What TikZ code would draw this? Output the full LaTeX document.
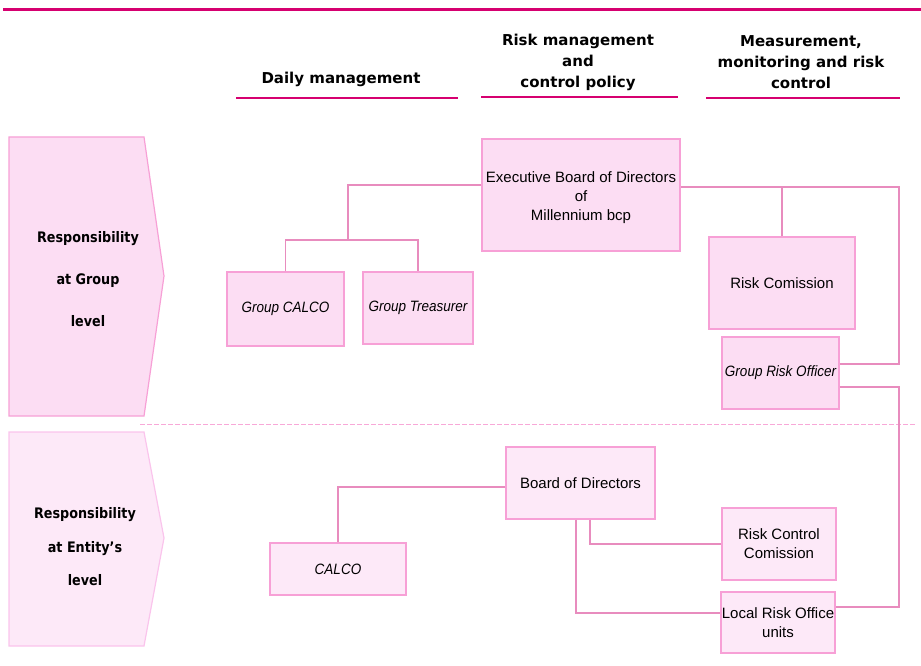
\documentclass[tikz,border=0pt]{standalone}
\usepackage{fontspec}
\setmainfont{Liberation Sans}
\newfontfamily\itfont{Liberation Sans}[FakeStretch=0.9]
\newfontfamily\hdrfont{DejaVu Sans}
\newfontfamily\lblfont{DejaVu Sans}[FakeStretch=0.88]
\definecolor{magline}{RGB}{214,0,112}
\definecolor{boxline}{RGB}{247,160,214}
\definecolor{gfill}{RGB}{252,221,243}
\definecolor{efill}{RGB}{253,233,248}
\definecolor{connc}{RGB}{232,140,190}
\definecolor{dashc}{RGB}{248,168,216}
\definecolor{efline}{RGB}{250,196,236}
\begin{document}
\begin{tikzpicture}[x=1pt,y=-1pt,
  box/.style={draw=boxline, line width=1.2pt, inner sep=0pt, align=center,
    font=\fontsize{15}{19}\selectfont},
  gbox/.style={box, fill=gfill},
  ebox/.style={box, fill=efill},
  itbox/.style={font=\itfont\itshape\fontsize{15}{19}\selectfont},
  conn/.style={draw=connc, line width=1.1pt},
  hdr/.style={align=center, inner sep=0pt,
    font=\hdrfont\bfseries\fontsize{15}{21}\selectfont},
  uline/.style={draw=magline, line width=1.6pt},
  lbl/.style={align=center, inner sep=0pt, text=black}
]
\useasboundingbox (0,0) rectangle (921,666);
% top rule
\draw[draw=magline, line width=3pt] (3,10) -- (921,10);
% headers
\node[hdr] (h1) at (341,79) {Daily management};
\node[hdr] (h2) at (578,62) {Risk management\\and\\control policy};
\node[hdr] (h3) at (801,62) {Measurement,\\monitoring and risk\\control};
\draw[uline] (236,98) -- (458,98);
\draw[uline] (481,97) -- (678,97);
\draw[uline] (706,98) -- (900,98);
% left arrows
\draw[draw=boxline, line width=1.2pt, fill=gfill]
  (9,137) -- (144,137) -- (164,276) -- (144,416) -- (9,416) -- cycle;
\draw[draw=efline, line width=1.2pt, fill=efill]
  (9,432) -- (144,432) -- (164,538) -- (144,646) -- (9,646) -- cycle;
\node[lbl, font=\lblfont\bfseries\fontsize{14.5}{42}\selectfont] (lg) at (88,279)
  {Responsibility\\at Group\\level};
\node[lbl, font=\lblfont\bfseries\fontsize{14.5}{33.5}\selectfont] (le) at (85,547)
  {Responsibility\\at Entity’s\\level};
% separator
\draw[draw=dashc, line width=1pt, dash pattern=on 4.5pt off 2.5pt] (140,424) -- (915,424);
% group level boxes
\node[gbox, minimum width=198pt, minimum height=112pt] (exec) at (581,195)
  {\rule{0pt}{17pt}Executive Board of Directors\\of\\Millennium bcp};
\node[gbox, itbox, minimum width=117pt, minimum height=74pt] (gcalco) at (285.5,309)
  {Group CALCO};
\node[gbox, itbox, minimum width=110pt, minimum height=72pt] (gtreas) at (418,308)
  {Group Treasurer};
\node[gbox, minimum width=146pt, minimum height=92pt] (riskc) at (782,283)
  {Risk Comission};
\node[gbox, itbox, minimum width=117pt, minimum height=72pt] (gro) at (780.5,373)
  {Group Risk Officer};
% entity level boxes
\node[ebox, minimum width=149pt, minimum height=72pt] (board) at (580.5,483)
  {Board of Directors};
\node[ebox, itbox, minimum width=136pt, minimum height=52pt] (calco) at (338,569)
  {CALCO};
\node[ebox, minimum width=114pt, minimum height=72pt] (rcc) at (779,544)
  {Risk Control\\Comission};
\node[ebox, minimum width=114pt, minimum height=61pt] (lro) at (778,622.5)
  {Local Risk Office\\units};
% connectors
\coordinate (j1) at (348,240);
\coordinate (r1) at (899,187);
\coordinate (r2) at (899,387);
\draw[conn] ([yshift=10pt]exec.west) -| (j1);
\draw[conn] (gcalco.north) |- (j1) -| (gtreas.north);
\draw[conn] ([yshift=8pt]exec.east) -- (r1) |- ([yshift=9pt]gro.east);
\draw[conn] (riskc.north) -- (riskc.north |- r1);
\draw[conn] ([yshift=-14pt]gro.east) -- (r2) |- ([yshift=15.5pt]lro.east);
\draw[conn] ([yshift=-4pt]board.west) -| (calco.north);
\draw[conn] ([xshift=-4.5pt]board.south) |- ([yshift=9.5pt]lro.west);
\draw[conn] ([xshift=9.5pt]board.south) |- (rcc.west);
\end{tikzpicture}
\end{document}
